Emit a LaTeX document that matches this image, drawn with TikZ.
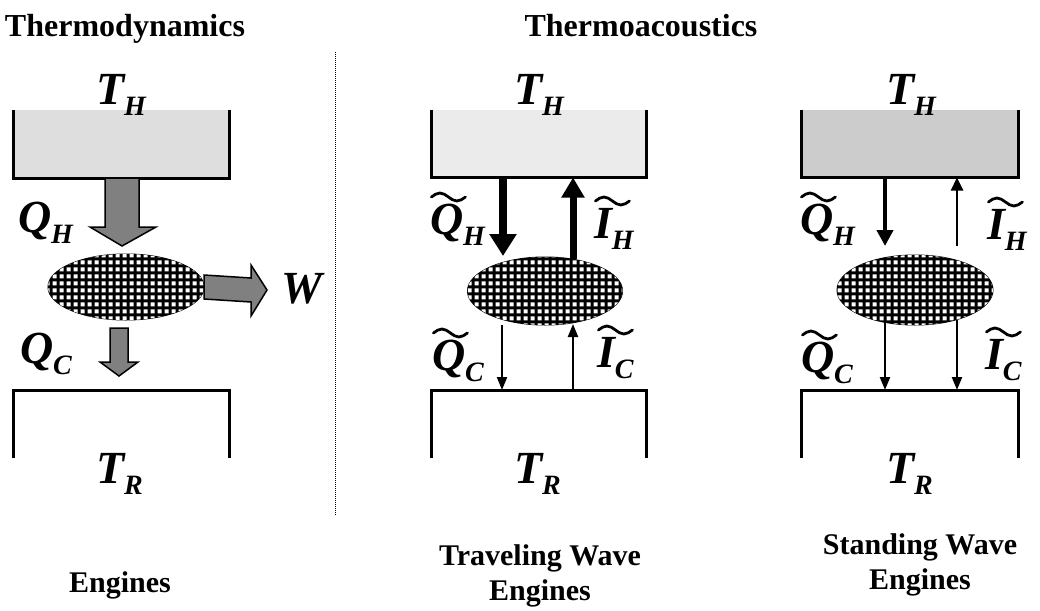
\documentclass[tikz,border=0pt]{standalone}
\usepackage{fontspec}
\setmainfont{Liberation Serif}
\usetikzlibrary{arrows.meta,shapes.geometric,patterns}

\pgfdeclarepatternformonly{mesh}{\pgfpointorigin}{\pgfpoint{7.4pt}{7.4pt}}{\pgfpoint{7.4pt}{7.4pt}}{%
  \pgfpathrectangle{\pgfpoint{1.7pt}{1.7pt}}{\pgfpoint{4.4pt}{4.4pt}}\pgfusepath{fill}}

\newcommand\tl[1]{\makebox[0pt][l]{\tikz[baseline=0pt]\draw[line width=2.8pt,line cap=round] (5pt,37pt) sin (13.5pt,41pt) cos (22pt,37pt) sin (30.5pt,33pt) cos (39pt,37pt);}#1}
\newcommand\Sym[2]{{\fontsize{46}{46}\selectfont\bfseries\itshape #1}{\fontsize{28}{28}\selectfont\bfseries\itshape\raisebox{-11pt}{#2}}}
\newcommand\TSym[2]{\Sym{\tl{#1}}{#2}}

\tikzset{
  lab/.style={inner sep=0pt, outer sep=0pt, anchor=base west},
  ttl/.style={inner sep=0pt, anchor=base, font=\fontsize{32}{32}\selectfont\bfseries},
  captext/.style={inner sep=0pt, anchor=base, align=center, font=\fontsize{30}{35}\selectfont\bfseries},
  hot/.style={rectangle, inner sep=0pt, outer sep=0pt, minimum height=68pt},
  cold/.style={rectangle, inner sep=0pt, outer sep=0pt, minimum height=68pt},
  wall/.style={line width=3pt, line join=miter},
  eng/.style={ellipse, inner sep=0pt, outer sep=0pt, fill=black, draw=black, line width=1pt,
              postaction={pattern=mesh, pattern color=white}},
  fat/.style={fill=black!50, draw=black, line width=1.5pt, line join=miter},
  bigA/.style={line width=8pt, -{Triangle[length=22pt,width=26pt]}},
  midA/.style={line width=4.5pt, -{Triangle[length=16pt,width=16pt]}},
  thinA/.style={line width=2.2pt, -{Triangle[length=13pt,width=10pt]}},
}

\begin{document}
\begin{tikzpicture}[x=1pt,y=-1pt]
\useasboundingbox (0,0) rectangle (1040,610);

% titles
\node[ttl] (t1) at (125,37) {Thermodynamics};
\node[ttl] (t2) at (641,37) {Thermoacoustics};

% divider
\draw[densely dotted, line width=1pt] (335,52) -- (335,515);

% ---------- left panel ----------
\node[hot, fill=black!13, minimum width=216pt] (h1) at (121,144) {};
\draw[wall] (h1.north west) |- (h1.south east) -- (h1.north east);
\node[cold, minimum width=216pt] (c1) at (121,424) {};
\draw[wall] (c1.south west) |- (c1.north east) -- (c1.south east);
\node[eng, minimum width=156pt, minimum height=66pt] (e1) at (126,287) {};

\draw[fat] (105,178) -- (105,227) -- (90,227) -- (122,246) -- (156,227) -- (139,227) -- (139,178) -- cycle;
\draw[fat] (e1.east) ++(0,-12) -- (251,278) -- (251,265) -- (267,290) -- (251,316) -- (251,302) -- ([yshift=-12pt]e1.east) -- cycle;
\draw[fat] (110,328) -- (110,362) -- (100,362) -- (119,376) -- (138,362) -- (128,362) -- (128,328) -- cycle;

\node[lab] (lth1) at (96,104) {\Sym{T}{H}};
\node[lab] (lqh1) at (18,232) {\Sym{Q}{H}};
\node[lab] (lw1) at (281,303) {\Sym{W}{}};
\node[lab] (lqc1) at (20,363) {\Sym{Q}{C}};
\node[lab] (ltr1) at (96,483) {\Sym{T}{R}};
\node[captext] (cp1) at (120,592) {Engines};

% ---------- middle panel ----------
\node[hot, fill=black!8, minimum width=215pt] (h2) at (538.5,143.5) {};
\draw[wall] (h2.north west) |- (h2.south east) -- (h2.north east);
\node[cold, minimum width=215pt] (c2) at (538.5,424) {};
\draw[wall] (c2.south west) |- (c2.north east) -- (c2.south east);
\node[eng, minimum width=155pt, minimum height=68pt] (e2) at (545,291) {};

\coordinate (m1) at (503,256);
\coordinate (m2) at (573,259);
\coordinate (m3) at (502,325);
\coordinate (m4) at (573,324);
\draw[bigA] (h2.south -| m1) -- (m1);
\draw[bigA, -{Triangle[length=20pt,width=22pt]}, line width=7pt] (m2) -- (h2.south -| m2);
\draw[thinA] (m3) -- (c2.north -| m3);
\draw[thinA] (c2.north -| m4) -- (m4);

\node[lab] (lth2) at (514,104) {\Sym{T}{H}};
\node[lab] (lqh2) at (430,234) {\TSym{Q}{H}};
\node[lab] (lih2) at (594,238) {\TSym{I}{H}};
\node[lab] (lqc2) at (432,370) {\TSym{Q}{C}};
\node[lab] (lic2) at (597,367) {\TSym{I}{C}};
\node[lab] (ltr2) at (514,483) {\Sym{T}{R}};
\node[captext] (cp2) at (540,600) {Traveling Wave\\Engines};

% ---------- right panel ----------
\node[hot, fill=black!20, minimum width=217pt] (h3) at (909.5,143.5) {};
\draw[wall] (h3.north west) |- (h3.south east) -- (h3.north east);
\node[cold, minimum width=217pt] (c3) at (909.5,424) {};
\draw[wall] (c3.south west) |- (c3.north east) -- (c3.south east);
\node[eng, minimum width=156pt, minimum height=70pt] (e3) at (915,290) {};

\coordinate (r1) at (885,246);
\coordinate (r2) at (957,246);
\coordinate (r3) at (885,322);
\coordinate (r4) at (957,320);
\draw[midA] (h3.south -| r1) -- (r1);
\draw[line width=2.5pt, -{Triangle[length=13pt,width=12pt]}] (r2) -- (h3.south -| r2);
\draw[thinA] (r3) -- (c3.north -| r3);
\draw[thinA] (r4) -- (c3.north -| r4);

\node[lab] (lth3) at (886,104) {\Sym{T}{H}};
\node[lab] (lqh3) at (800,234) {\TSym{Q}{H}};
\node[lab] (lih3) at (987,239) {\TSym{I}{H}};
\node[lab] (lqc3) at (801,372) {\TSym{Q}{C}};
\node[lab] (lic3) at (985,369) {\TSym{I}{C}};
\node[lab] (ltr3) at (886,483) {\Sym{T}{R}};
\node[captext] (cp3) at (920,589) {Standing Wave\\Engines};
\end{tikzpicture}
\end{document}
